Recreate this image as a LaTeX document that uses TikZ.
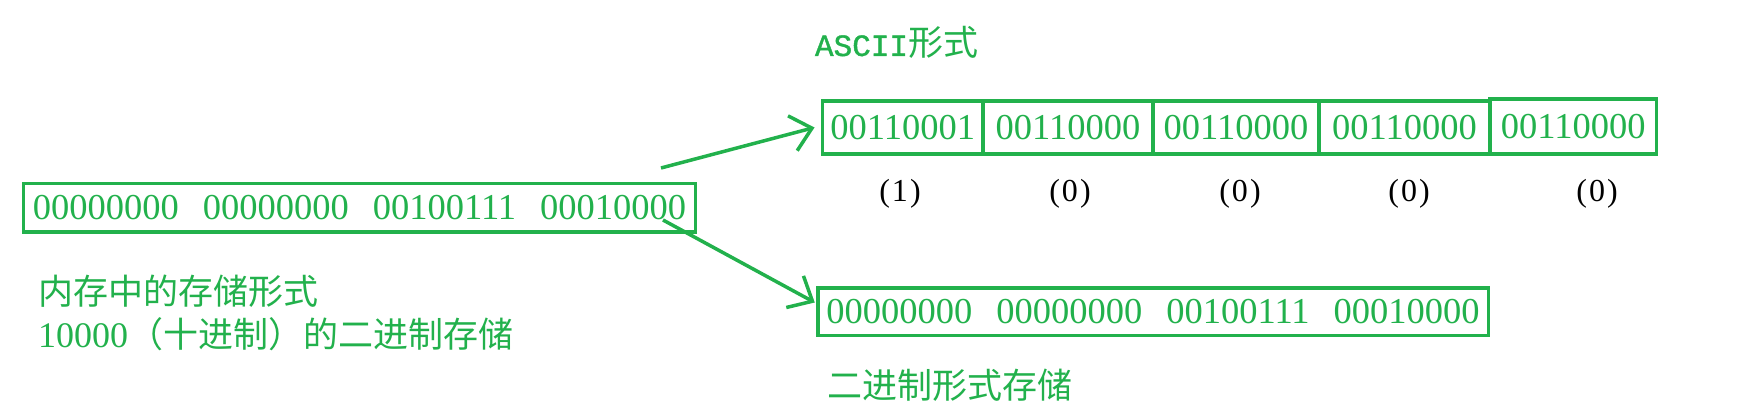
\documentclass[tikz,border=0pt]{standalone}
\usepackage{fontspec}
\setmainfont{Liberation Serif}
\newfontfamily\cjk{Noto Sans CJK SC}
\newfontfamily\mono[FakeBold=1.2]{Liberation Mono}
\usetikzlibrary{arrows.meta}
\definecolor{pgreen}{RGB}{34,177,76}
\tikzset{
 box/.style={draw=pgreen, line width=3.5pt, inner sep=0pt, outer sep=0pt, text=pgreen, font=\fontsize{36.5}{40}\selectfont},
 lbl/.style={inner sep=0pt, outer sep=0pt, anchor=base west, text=pgreen, font=\cjk\fontsize{35}{42}\selectfont},
 idx/.style={inner sep=0pt, outer sep=0pt, anchor=base, text=black, font=\fontsize{32}{36}\selectfont},
 conn/.style={draw=pgreen, line width=3.5pt, -{Straight Barb[length=20pt,width=36pt,line width=3.5pt]}},
}
\newcommand\bgap{\hspace{24pt}}
\begin{document}
\begin{tikzpicture}[x=1pt,y=-1pt]
\useasboundingbox (0,0) rectangle (1740,414);
% memory box
\node[box, minimum width=672pt, minimum height=48.5pt] (mem) at (359.5,207.75)
  {00000000\bgap 00000000\bgap 00100111\bgap 00010000};
\node[lbl] (memlbl1) at (38,304) {内存中的存储形式};
\node[lbl] (memlbl2) at (38,347) {{\rmfamily\fontsize{36}{40}\selectfont 10000}（十进制）的二进制存储};
% ASCII row
\node[lbl] (asciilbl) at (815,56) {{\mono\fontsize{31}{36}\selectfont ASCII}形式};
\node[box, minimum width=160.5pt, minimum height=53pt] (c1) at (902.75,127.5) {00110001};
\node[box, minimum width=170pt, minimum height=53pt] (c2) at (1068,127.5) {00110000};
\node[box, minimum width=166pt, minimum height=53pt] (c3) at (1236,127.5) {00110000};
\node[box, minimum width=171pt, minimum height=53pt] (c4) at (1404.5,127.5) {00110000};
\node[box, minimum width=166.5pt, minimum height=55pt] (c5) at (1573.25,126.5) {00110000};
\node[idx] (i1) at (900,202) {(\kern2pt1\kern2pt)};
\node[idx] (i2) at (1070,202) {(\kern2pt0\kern2pt)};
\node[idx] (i3) at (1240,202) {(\kern2pt0\kern2pt)};
\node[idx] (i4) at (1409,202) {(\kern2pt0\kern2pt)};
\node[idx] (i5) at (1597,202) {(\kern2pt0\kern2pt)};
% binary box
\node[box, minimum width=670.5pt, minimum height=47.5pt] (bin) at (1153,311.5)
  {00000000\bgap 00000000\bgap 00100111\bgap 00010000};
\node[lbl] (binlbl) at (827,398) {二进制形式存储};
% arrows
\coordinate (s1) at (661,168);
\coordinate (s2) at (663,220);
\draw[conn] (s1) -- ([xshift=-8pt]c1.west);
\draw[conn] (s2) -- ([xshift=-3pt,yshift=9pt]bin.west);
\end{tikzpicture}
\end{document}
